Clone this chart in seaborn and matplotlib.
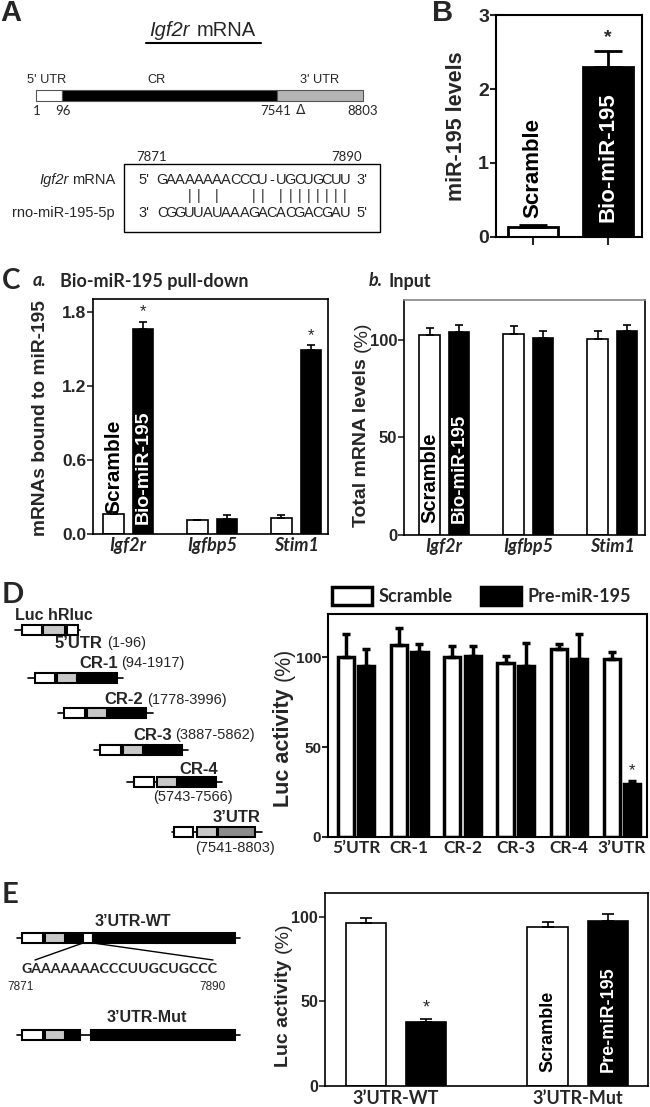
import matplotlib.pyplot as plt
import pandas as pd
import seaborn as sns
from matplotlib.patches import Patch, Rectangle

# ---- data -------------------------------------------------------------
# panel B
b_groups = ["Scramble", "Bio-miR-195"]
b_levels = [0.13, 2.30]
b_err = [0.03, 0.22]

# panel C
c_genes = ["Igf2r", "Igfbp5", "Stim1"]
c_groups = ["Scramble", "Bio-miR-195"]
ca_scramble = [0.16, 0.11, 0.13]
ca_bio = [1.66, 0.12, 1.49]
ca_scramble_err = [0.02, 0.005, 0.02]
ca_bio_err = [0.06, 0.03, 0.04]
cb_scramble = [102.5, 103.0, 100.5]
cb_bio = [104.0, 101.0, 104.6]
cb_scramble_err = [3.5, 4.0, 4.0]
cb_bio_err = [3.5, 3.5, 3.0]

# panel D
d_groups = ["Scramble", "Pre-miR-195"]
d_constructs = ["5\u2019UTR", "CR-1", "CR-2", "CR-3", "CR-4", "3\u2019UTR"]
d_scramble = [100.0, 107.0, 100.0, 97.0, 104.6, 99.0]
d_pre = [95.0, 102.6, 100.4, 95.0, 99.0, 29.3]
d_scramble_err = [13.0, 9.0, 6.0, 3.5, 2.5, 4.0]
d_pre_err = [9.5, 4.5, 6.0, 13.0, 14.0, 1.7]

# panel E
e_reporters = ["3\u2019UTR-WT", "3\u2019UTR-Mut"]
e_scramble = [96.3, 94.0]
e_pre = [38.0, 97.2]
e_scramble_err = [3.0, 3.0]
e_pre_err = [1.6, 4.4]

ARIAL = "Liberation Sans"
CAL = "Lato"
W, H = 650, 1107

sns.set_style("ticks")
plt.rcParams["font.family"] = [ARIAL, "DejaVu Sans"]

fig = plt.figure(figsize=(W / 100, H / 100), dpi=100)


def px_axes(left, top, right, bottom):
    return fig.add_axes([left / W, 1 - bottom / H, (right - left) / W, (bottom - top) / H])


def grouped_bars(ax, cats, groups, vals_a, vals_b, errs_a, errs_b, width, gap, lw, elw, cap):
    n = len(cats)
    df = pd.DataFrame({
        "cat": list(cats) * 2,
        "group": [groups[0]] * n + [groups[1]] * n,
        "value": list(vals_a) + list(vals_b),
    })
    sns.barplot(data=df, x="cat", y="value", hue="group", order=cats, hue_order=groups,
                palette=["white", "black"], width=width, gap=gap, edgecolor="black",
                linewidth=lw, errorbar=None, legend=False, ax=ax)
    tops = []
    for cont, errs in zip(ax.containers, (errs_a, errs_b)):
        row = []
        for bar, e in zip(cont, errs):
            xc = bar.get_x() + bar.get_width() / 2
            h = bar.get_height()
            ax.errorbar(xc, h, yerr=[[0], [e]], fmt="none", ecolor="black",
                        elinewidth=elw, capsize=cap, capthick=elw)
            row.append((xc, h, h + e))
        tops.append(row)
    return tops


def style_axis(ax, yticks, ylabels, ysize, lw, xlim, ylim):
    ax.set_xlim(*xlim)
    ax.set_ylim(*ylim)
    ax.set_yticks(yticks)
    ax.set_yticklabels(ylabels)
    for t in ax.get_yticklabels():
        t.set_fontfamily(ARIAL)
        t.set_fontweight("bold")
        t.set_fontsize(ysize)
    ax.tick_params(axis="y", direction="out", length=4, width=lw, pad=1)
    ax.tick_params(axis="x", length=0)
    for s in ax.spines.values():
        s.set_visible(True)
        s.set_linewidth(lw)
        s.set_color("black")
    ax.set_xlabel("")
    ax.set_ylabel("")


def style_xlabels(ax, size, italic=False, pad=2):
    for t in ax.get_xticklabels():
        t.set_fontfamily(CAL)
        t.set_fontweight("bold")
        t.set_fontsize(size)
        if italic:
            t.set_fontstyle("italic")
    ax.tick_params(axis="x", pad=pad)


def bar_text(ax, x, y, s, color, size):
    ax.text(x, y, s, rotation=90, ha="center", va="bottom", color=color, fontsize=size,
            fontweight="bold", family=ARIAL)


# ---- panel B ------------------------------------------------------------
axB = px_axes(496, 15, 642, 237)
df_b = pd.DataFrame({"group": b_groups, "level": b_levels})
sns.barplot(data=df_b, x="group", y="level", hue="group", palette=["white", "black"],
            width=0.67, edgecolor="black", linewidth=2, errorbar=None, legend=False, ax=axB)
b_bars = [bar for cont in axB.containers for bar in cont]
for bar, e, name, col, base in zip(b_bars, b_err, b_groups, ["black", "white"], [0.26, 0.2]):
    xc = bar.get_x() + bar.get_width() / 2
    axB.errorbar(xc, bar.get_height(), yerr=[[0], [e]], fmt="none", ecolor="black",
                 elinewidth=2, capsize=10, capthick=2)
    bar_text(axB, xc, base, name, col, 16)
axB.text(1, b_levels[1] + b_err[1] + 0.06, "*", ha="center", va="bottom", fontsize=14,
         family=ARIAL, fontweight="bold")
style_axis(axB, [0, 1, 2, 3], ["0", "1", "2", "3"], 14, 1.5, (-0.49, 1.45), (0, 3))
axB.set_xticklabels([])
axB.tick_params(axis="x", direction="out", length=6, width=1.5)

# ---- panel C a ------------------------------------------------------------
axCa = px_axes(93, 299, 328, 534)
tops = grouped_bars(axCa, c_genes, c_groups, ca_scramble, ca_bio, ca_scramble_err, ca_bio_err,
                    width=0.7, gap=0.3, lw=1.2, elw=1.2, cap=3)
style_axis(axCa, [0, 0.6, 1.2, 1.8], ["0.0", "0.6", "1.2", "1.8"], 12.5, 1.2,
           (-0.42, 2.38), (0, 1.905))
style_xlabels(axCa, 13, italic=True)
xs, h, _ = tops[0][0]
bar_text(axCa, xs, h + 0.005, c_groups[0], "black", 15)
bar_text(axCa, tops[1][0][0], 0.08, c_groups[1], "white", 14)
for i in (0, 2):
    x, _, top = tops[1][i]
    axCa.text(x, top + 0.02, "*", ha="center", va="bottom", fontsize=12)

# ---- panel C b ------------------------------------------------------------
axCb = px_axes(404, 300, 645, 535)
tops = grouped_bars(axCb, c_genes, c_groups, cb_scramble, cb_bio, cb_scramble_err, cb_bio_err,
                    width=0.7, gap=0.3, lw=1.2, elw=1.2, cap=3)
style_axis(axCb, [0, 50, 100], ["0", "50", "100"], 12, 1.2, (-0.48, 2.39), (0, 120.5))
style_xlabels(axCb, 13, italic=True)
axCb.spines["top"].set_color("#888888")
bar_text(axCb, tops[0][0][0], 6, c_groups[0], "black", 14.5)
bar_text(axCb, tops[1][0][0], 6, c_groups[1], "white", 13.5)

# ---- panel D ------------------------------------------------------------
axD = px_axes(328, 614, 647, 837)
tops = grouped_bars(axD, d_constructs, d_groups, d_scramble, d_pre, d_scramble_err, d_pre_err,
                    width=0.76, gap=0.2, lw=2.5, elw=2.5, cap=3)
style_axis(axD, [0, 50, 100], ["0", "50", "100"], 11, 1.5, (-0.53, 5.47), (0, 124))
style_xlabels(axD, 12.5, pad=2)
x, _, top = tops[1][5]
axD.text(x, top + 1.5, "*", ha="center", va="bottom", fontsize=12)
handles = [Patch(facecolor=c, edgecolor="black", linewidth=2.5) for c in ("white", "black")]
axD.legend(handles, d_groups, loc="center left", bbox_to_anchor=(0.013, 1.08), ncol=2,
           frameon=False, borderpad=0, borderaxespad=0, handlelength=2.2,
           handleheight=1.2, handletextpad=0.35, columnspacing=1.6,
           prop={"family": CAL, "weight": "bold", "size": 13})

# ---- panel E ------------------------------------------------------------
axE = px_axes(325, 893, 648, 1086)
tops = grouped_bars(axE, e_reporters, d_groups, e_scramble, e_pre, e_scramble_err, e_pre_err,
                    width=0.66, gap=0.32, lw=1.2, elw=1.2, cap=4)
style_axis(axE, [0, 50, 100], ["0", "50", "100"], 11.5, 1.2, (-0.39, 1.385), (0, 114))
style_xlabels(axE, 13, pad=3)
bar_text(axE, tops[0][1][0], 8, d_groups[0], "black", 13)
bar_text(axE, tops[1][1][0], 8, d_groups[1], "white", 13)
x, _, top = tops[1][0]
axE.text(x, top + 1.5, "*", ha="center", va="bottom", fontsize=13)

# ---- overlay: letters, labels, diagrams ----------------------------------------
ov = fig.add_axes([0, 0, 1, 1], zorder=10)
ov.set_xlim(0, W)
ov.set_ylim(H, 0)
ov.axis("off")
ov.patch.set_alpha(0)
renderer = fig.canvas.get_renderer()


def txt(x, y, s, **kw):
    kw.setdefault("ha", "left")
    kw.setdefault("va", "center")
    return ov.text(x, y, s, **kw)


def right_of(t, gap):
    # left edge (in figure pixels) just after an existing text
    return t.get_window_extent(renderer).x1 + gap


def left_of(t, gap):
    return t.get_window_extent(renderer).x0 - gap


def box(x0, x1, yc, fc, h=10, lw=1.5, ec="black"):
    ov.add_patch(Rectangle((x0, yc - h / 2), x1 - x0, h, facecolor=fc, edgecolor=ec,
                           linewidth=lw, zorder=3))


def hline(x0, x1, y, lw=1.2):
    ov.plot([x0, x1], [y, y], color="black", lw=lw, zorder=2)


def ylabel2(x, y_bottom, bold, rest, size):
    t = txt(x, y_bottom, bold, rotation=90, ha="center", va="bottom", fontsize=size,
            fontweight="bold", family=ARIAL)
    bb = t.get_window_extent(renderer)
    txt(x, H - bb.y1 - 1, rest, rotation=90, ha="center", va="bottom", fontsize=size,
        family=ARIAL)


# panel letters
txt(0, 13, "A", fontsize=21, fontweight="bold", family=ARIAL)
txt(432, 13, "B", fontsize=21, fontweight="bold", family=ARIAL)
txt(2, 281, "C", fontsize=20, fontweight="bold", family=CAL)
txt(2, 595, "D", fontsize=21, fontweight="bold", family=CAL)
txt(2, 895, "E", fontsize=21, fontweight="bold", family=CAL)

# y labels
txt(456, 126, "miR-195 levels", rotation=90, ha="center", fontsize=15.5, fontweight="bold")
txt(41, 418, "mRNAs bound to miR-195", rotation=90, ha="center", fontsize=13.8,
    fontweight="bold")
ylabel2(362, 527, "Total mRNA levels ", "(%)", 14)
ylabel2(284, 807, "Luc activity ", "(%)", 15.5)
ylabel2(283, 1067, "Luc activity ", "(%)", 14)

# panel C titles
txt(33, 281, "a.", fontsize=13, fontstyle="italic", fontweight="bold", family=CAL)
txt(60, 281, "Bio-miR-195 pull-down", fontsize=13, fontweight="bold", family=CAL)
txt(369, 281, "b.", fontsize=13, fontstyle="italic", fontweight="bold", family=CAL)
txt(388, 281, "Input", fontsize=13, fontweight="bold", family=CAL)

# panel A diagram
txt(190, 30, "Igf2r", ha="right", fontsize=14.5, fontstyle="italic")
txt(197, 30, "mRNA", fontsize=14.5)
hline(146, 261, 43, lw=1.5)
box(36, 62, 95.5, "white", h=11, lw=0.8, ec="#555555")
box(62, 277, 95.5, "black", h=11, lw=0.8, ec="#555555")
box(277, 363, 95.5, "#b4b4b4", h=11, lw=0.8, ec="#555555")
for x, s in [(47, "5' UTR"), (157, "CR"), (320, "3' UTR")]:
    txt(x, 80, s, ha="center", fontsize=9.2)
for x, s in [(37, "1"), (63, "96"), (276, "7541"), (363, "8803")]:
    txt(x, 111, s, ha="center", fontsize=9.5, family=CAL)
txt(301, 110, "\u0394", ha="center", fontsize=10, family="DejaVu Sans")
ov.add_patch(Rectangle((124, 164), 256, 68, facecolor="none", edgecolor="black", lw=1,
                       zorder=3))
txt(152, 157, "7871", ha="center", fontsize=9.5, family=CAL)
txt(347, 157, "7890", ha="center", fontsize=9.5, family=CAL)
t_m = txt(115, 180, "mRNA", ha="right", fontsize=10.5)
txt(left_of(t_m, 3), 180, "Igf2r", ha="right", fontsize=10.5, fontstyle="italic")
txt(115, 213, "rno-miR-195-5p", ha="right", fontsize=10.5)
top_seq = "GAAAAAAACCCU-UGCUGCUU"
bot_seq = "CGGUUAUAAAGACACGACGAU"
pair_cols = [3, 4, 6, 10, 11, 13, 14, 15, 16, 17, 18, 19, 20]
x0, pitch = 162, 9.15
for i, (a, b) in enumerate(zip(top_seq, bot_seq)):
    txt(x0 + i * pitch, 180, a, ha="center", fontsize=10.5)
    txt(x0 + i * pitch, 213, b, ha="center", fontsize=10.5)
for i in pair_cols:
    txt(x0 + i * pitch, 196, "|", ha="center", fontsize=10.5)
txt(x0 - 2 * pitch, 180, "5'", ha="center", fontsize=10.5)
txt(x0 - 2 * pitch, 213, "3'", ha="center", fontsize=10.5)
txt(x0 + 21.9 * pitch, 180, "3'", ha="center", fontsize=10.5)
txt(x0 + 21.9 * pitch, 213, "5'", ha="center", fontsize=10.5)

# panel D diagram
GRAY, DGRAY = "#c8c8c8", "#8c8c8c"
d_rows = [
    (630, 15, 80, [(22, 42, "white"), (43, 65, GRAY), (67, 78, "white")]),
    (678, 28, 123, [(35, 55, "white"), (57, 77, GRAY), (79, 117, "black")]),
    (713, 58, 153, [(64, 85, "white"), (87, 107, GRAY), (109, 146, "black")]),
    (750, 94, 188, [(100, 121, "white"), (123, 143, GRAY), (144, 182, "black")]),
    (782, 127, 222, [(134, 154, "white"), (157, 177, GRAY), (178, 216, "black")]),
    (832, 172, 262, [(174, 193, "white"), (197, 217, GRAY), (218, 255, DGRAY)]),
]
for y, l0, l1, boxes in d_rows:
    hline(l0, l1, y)
    for a, b, c in boxes:
        box(a, b, y, c)
txt(15, 615, "Luc hRluc", fontsize=11.5, fontweight="bold")
# (bold name x, y, name, range x or None to follow the name, range y, range)
d_labels = [
    (55, 643, "5\u2019UTR", None, 643, "(1-96)"),
    (79, 663, "CR-1", None, 663, "(94-1917)"),
    (104, 700, "CR-2", None, 700, "(1778-3996)"),
    (133, 735, "CR-3", None, 735, "(3887-5862)"),
    (179, 769, "CR-4", 153, 797, "(5743-7566)"),
    (213, 817, "3\u2019UTR", 195, 848, "(7541-8803)"),
]
for xb_, yb_, sb, xr, yr, sr in d_labels:
    t = txt(xb_, yb_, sb, fontsize=12, fontweight="bold")
    if xr is None:
        xr = right_of(t, 4)
    txt(xr, yr, sr, fontsize=10.5)

# panel E diagram
txt(133, 922, "3\u2019UTR-WT", ha="center", fontsize=11.5, fontweight="bold")
hline(17, 240, 938)
for a, b, c in [(22, 43, "white"), (45, 65, GRAY), (67, 82, "black"), (83, 93, "white"),
                (93, 235, "black")]:
    box(a, b, 938, c)
ov.plot([83, 35], [943, 960], color="black", lw=1)
ov.plot([93, 213], [943, 960], color="black", lw=1)
txt(120, 969, "GAAAAAAACCCUUGCUGCCC", ha="center", fontsize=10.2, fontweight="bold",
    family=CAL)
txt(21, 987, "7871", ha="center", fontsize=8.5)
txt(212, 987, "7890", ha="center", fontsize=8.5)
txt(147, 1018, "3\u2019UTR-Mut", ha="center", fontsize=11.5, fontweight="bold")
hline(17, 240, 1035)
for a, b, c in [(22, 43, "white"), (45, 65, GRAY), (67, 80, "black"), (91, 235, "black")]:
    box(a, b, 1035, c)

fig.savefig("out.png", dpi=100)
